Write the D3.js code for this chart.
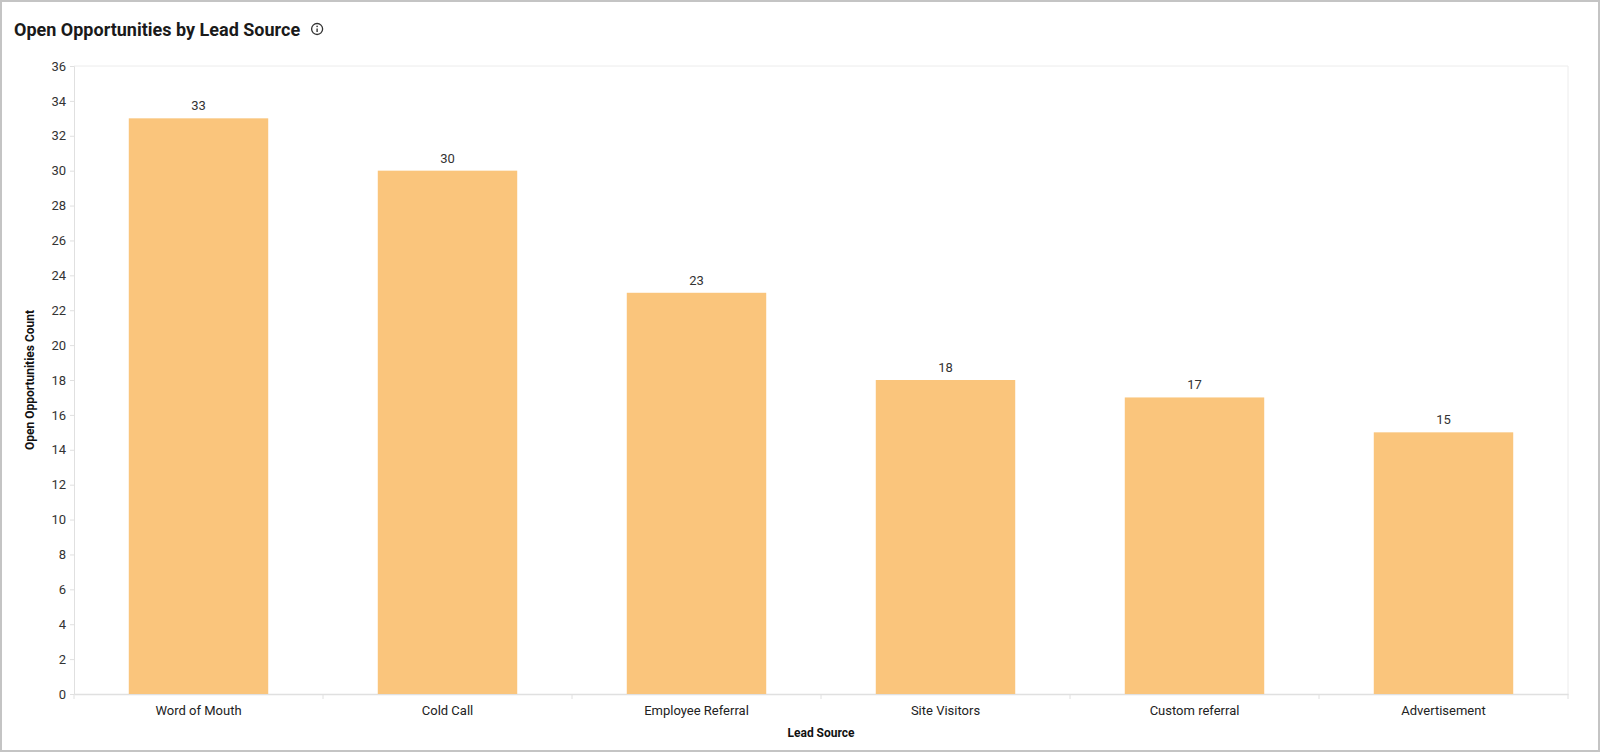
<!DOCTYPE html><html><head><meta charset="utf-8"><script src="https://cdn.jsdelivr.net/npm/d3@7"></script>
<style>body{margin:0;background:#fff}svg{display:block;font-family:Roboto,sans-serif}</style></head><body><svg id="c" width="1600" height="752"></svg>
<script>
const categories=["Word of Mouth","Cold Call","Employee Referral","Site Visitors","Custom referral","Advertisement"];
const values=[33,30,23,18,17,15];
const yTicks=d3.range(0,37,2);
const svg=d3.select("#c");
svg.append("rect").attr("x",1).attr("y",1).attr("width",1598).attr("height",750).attr("fill","#fff").attr("stroke","#c4c4c4").attr("stroke-width",2);
const m={l:74,r:1568,t:66,b:694};
const x=d3.scaleBand().domain(categories).range([m.l,m.r]).paddingInner(0.44).paddingOuter(0.22);
const y=d3.scaleLinear().domain([0,36]).range([m.b,m.t]);
const t=svg.append("text").attr("x",14).attr("y",36).attr("font-size",18).attr("font-weight",700).attr("fill","#1a1a1a").text("Open Opportunities by Lead Source");
const tw=t.node().getComputedTextLength();
const ic=svg.append("g").attr("transform",`translate(${14+tw+17},29)`);
ic.append("circle").attr("r",5.5).attr("fill","none").attr("stroke","#333").attr("stroke-width",1.3);
ic.append("line").attr("y1",-0.5).attr("y2",3).attr("stroke","#333").attr("stroke-width",1.4);
ic.append("circle").attr("cy",-2.6).attr("r",0.8).attr("fill","#333");
// top gridline & right border
svg.append("line").attr("x1",m.l).attr("x2",m.r).attr("y1",m.t).attr("y2",m.t).attr("stroke","#ececec");
svg.append("line").attr("x1",m.r).attr("x2",m.r).attr("y1",m.t).attr("y2",m.b).attr("stroke","#ececec");
const ya=svg.append("g").attr("transform",`translate(${m.l},0)`).call(d3.axisLeft(y).tickValues(yTicks).tickSize(4).tickPadding(4));
ya.select(".domain").attr("stroke","#e0e0e0");
ya.selectAll(".tick line").attr("stroke","#e0e0e0");
ya.selectAll("text").attr("font-size",13).attr("fill","#333").attr("font-family","Roboto,sans-serif");
const xa=svg.append("g").attr("transform",`translate(0,${m.b})`).call(d3.axisBottom(x).tickSize(0).tickPadding(12));
xa.select(".domain").attr("stroke","#e0e0e0").attr("stroke-width",1.5);
xa.selectAll("text").attr("font-size",13).attr("fill","#222").attr("font-family","Roboto,sans-serif");
const step=x.step();
const seps=d3.range(0,categories.length+1).map(i=>m.l+i*(m.r-m.l)/categories.length);
svg.selectAll(".sep").data(seps).join("line").attr("x1",d=>d).attr("x2",d=>d).attr("y1",m.b).attr("y2",m.b+5).attr("stroke","#e0e0e0");
svg.selectAll(".bar").data(values).join("rect").attr("x",(d,i)=>x(categories[i])).attr("width",x.bandwidth()).attr("y",d=>y(d)).attr("height",d=>y(0)-y(d)).attr("fill","#fac57c");
svg.selectAll(".lbl").data(values).join("text").attr("x",(d,i)=>x(categories[i])+x.bandwidth()/2).attr("y",d=>y(d)-8).attr("text-anchor","middle").attr("font-size",13).attr("fill","#333").text(d=>d);
svg.append("text").attr("x",(m.l+m.r)/2).attr("y",737).attr("text-anchor","middle").attr("font-size",12).attr("font-weight",700).attr("fill","#111").text("Lead Source");
svg.append("text").attr("transform",`translate(34,${(m.t+m.b)/2}) rotate(-90)`).attr("text-anchor","middle").attr("font-size",12).attr("font-weight",700).attr("fill","#111").text("Open Opportunities Count");
</script></body></html>
